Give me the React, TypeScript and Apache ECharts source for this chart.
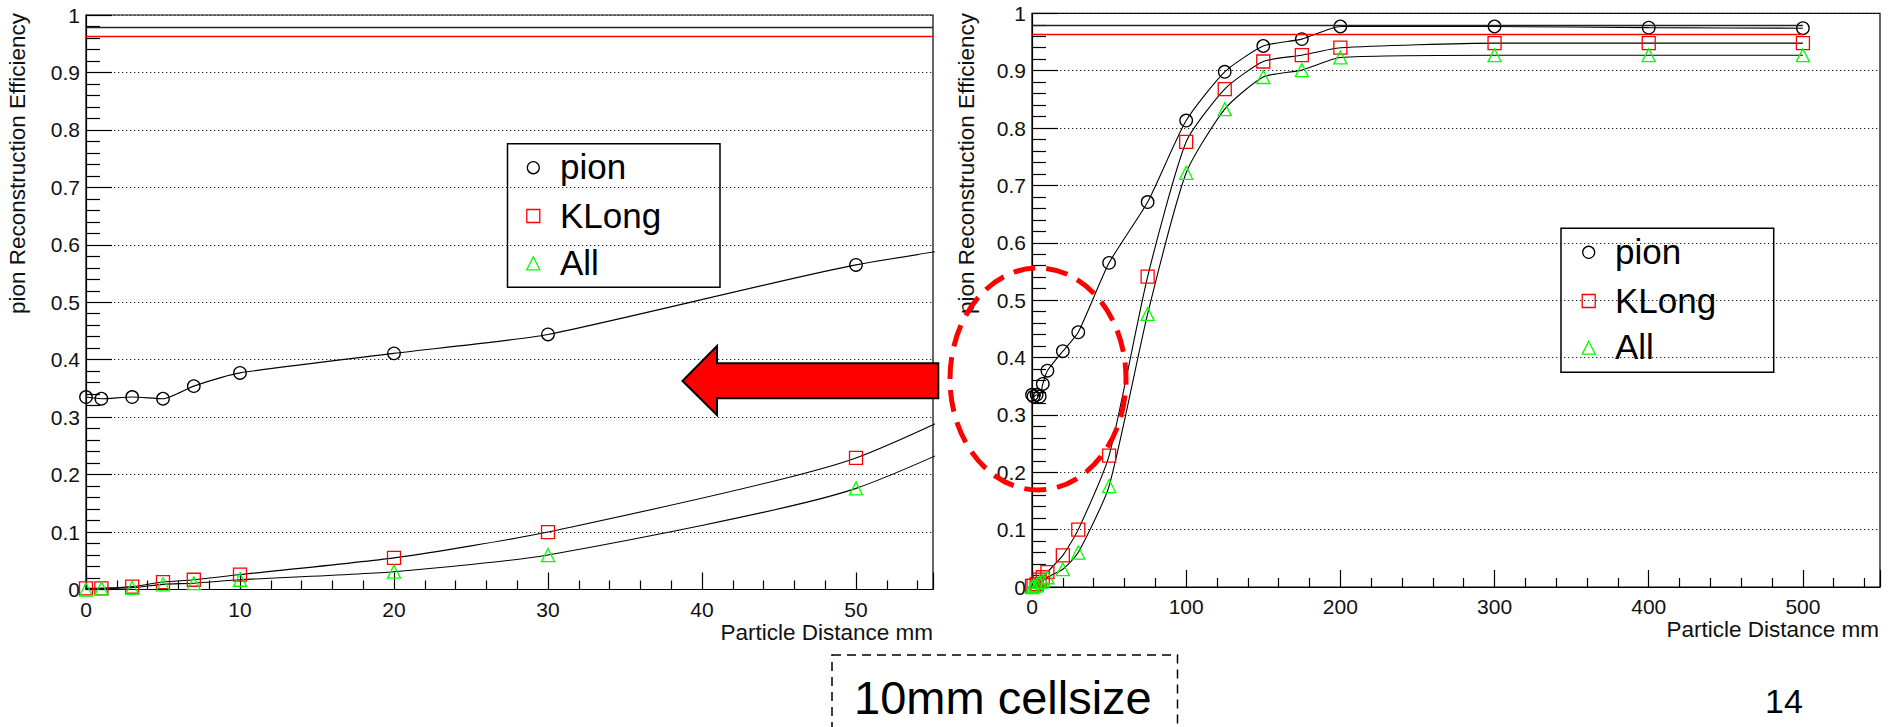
import React, { useEffect, useRef } from "react";
import * as echarts from "echarts";

// ---- data ----
const distances = [0, 1, 3, 5, 7, 10, 20, 30, 50, 75, 100, 125, 150, 175, 200, 300, 400, 500];
const pionEff = [0.335, 0.332, 0.335, 0.332, 0.354, 0.377, 0.411, 0.444, 0.565, 0.671, 0.813, 0.898, 0.943, 0.955, 0.977, 0.977, 0.975, 0.974];
const kLongEff = [0.002, 0.002, 0.005, 0.013, 0.017, 0.026, 0.055, 0.1, 0.229, 0.541, 0.776, 0.868, 0.916, 0.927, 0.94, 0.948, 0.948, 0.948];
const allEff = [0.0, 0.002, 0.003, 0.009, 0.011, 0.017, 0.031, 0.06, 0.176, 0.476, 0.722, 0.833, 0.889, 0.901, 0.923, 0.927, 0.927, 0.927];
const seriesNames = ["pion", "KLong", "All"];
const pionRef = 0.979;
const kLongRef = 0.963;
const yAxisTitle = "pion Reconstruction Efficiency";
const xAxisTitle = "Particle Distance mm";
const boxText = "10mm cellsize";
const pageNumber = "14";

const FONT = "'Liberation Sans', Arial, Helvetica, sans-serif";
const RED = "#ff0000";
const GREEN = "#00ff00";
const INK = "#000000";

function pairs(vals: number[]) {
  return distances.map((d, i) => [d, vals[i]]);
}

function makeAxes(gridIndex: number, xMax: number, xInterval: number) {
  const xAxis = {
    type: "value",
    gridIndex,
    min: 0,
    max: xMax,
    interval: xInterval,
    axisLine: { show: true, onZero: false, lineStyle: { color: INK, width: 1.2 } },
    axisTick: { show: true, inside: true, length: 17, lineStyle: { color: INK, width: 1.2 } },
    minorTick: { show: true, splitNumber: 5, length: 9, lineStyle: { color: INK, width: 1.2 } },
    splitLine: { show: false },
    axisLabel: { show: true, showMaxLabel: false, margin: 9, color: "#111", fontSize: 21, fontFamily: FONT },
  };
  const yAxis = {
    type: "value",
    gridIndex,
    min: 0,
    max: 1,
    interval: 0.1,
    axisLine: { show: true, onZero: false, lineStyle: { color: INK, width: 1.2 } },
    axisTick: { show: true, inside: true, length: 26, lineStyle: { color: INK, width: 1.2 } },
    minorTick: { show: true, splitNumber: 5, length: 14, lineStyle: { color: INK, width: 1.2 } },
    splitLine: { show: true, lineStyle: { color: "#222", width: 1.2, type: [1.3, 2.7] } },
    axisLabel: { show: true, margin: 6, color: "#111", fontSize: 21, fontFamily: FONT },
  };
  return { xAxis, yAxis };
}

function makeSeries(idx: number, xEnd: number) {
  const common = {
    type: "line",
    xAxisIndex: idx,
    yAxisIndex: idx,
    smooth: 0.2,
    clip: true,
    symbolSize: 13,
    lineStyle: { color: INK, width: 1.1 },
    emphasis: { disabled: true },
  };
  return [
    {
      ...common,
      name: seriesNames[0],
      data: pairs(pionEff),
      symbol: "circle",
      symbolSize: 12.5,
      itemStyle: { color: "rgba(0,0,0,0)", borderColor: INK, borderWidth: 1.3 },
      markLine: {
        silent: true,
        symbol: ["none", "none"],
        label: { show: false },
        lineStyle: { type: "solid", width: 1.3, color: "#222" },
        data: [
          [{ coord: [0, pionRef] }, { coord: [xEnd, pionRef] }],
          [{ coord: [0, kLongRef], lineStyle: { color: RED, type: "solid", width: 1.3 } }, { coord: [xEnd, kLongRef] }],
        ],
      },
    },
    {
      ...common,
      name: seriesNames[1],
      data: pairs(kLongEff),
      symbol: "rect",
      itemStyle: { color: "rgba(0,0,0,0)", borderColor: RED, borderWidth: 1.3 },
    },
    {
      ...common,
      name: seriesNames[2],
      data: pairs(allEff),
      symbol: "triangle",
      itemStyle: { color: "rgba(0,0,0,0)", borderColor: GREEN, borderWidth: 1.3 },
    },
  ];
}

function legendGraphic(x0: number, y0: number, x1: number, y1: number, mx: number, rows: number[], tx: number) {
  const children: any[] = [
    {
      type: "rect",
      shape: { x: x0, y: y0, width: x1 - x0, height: y1 - y0 },
      style: { fill: "#fff", stroke: INK, lineWidth: 1.5 },
    },
    {
      type: "circle",
      shape: { cx: mx, cy: rows[0], r: 6 },
      style: { fill: "none", stroke: INK, lineWidth: 1.3 },
    },
    {
      type: "rect",
      shape: { x: mx - 6.5, y: rows[1] - 6.5, width: 13, height: 13 },
      style: { fill: "none", stroke: RED, lineWidth: 1.3 },
    },
    {
      type: "polygon",
      shape: { points: [[mx, rows[2] - 6.5], [mx + 6.5, rows[2] + 6.5], [mx - 6.5, rows[2] + 6.5]] },
      style: { fill: "none", stroke: GREEN, lineWidth: 1.3 },
    },
  ];
  seriesNames.forEach((n, i) => {
    children.push({
      type: "text",
      x: tx,
      y: rows[i] - 1,
      style: { text: n, fill: "#000", fontSize: 35, fontFamily: FONT, align: "left", verticalAlign: "middle" },
    });
  });
  return { type: "group", z: 100, children };
}

export default function App() {
  const ref = useRef<HTMLDivElement>(null);

  useEffect(() => {
    if (!ref.current) return;
    const chart = echarts.init(ref.current, undefined, { renderer: "svg" });

    const a0 = makeAxes(0, 55, 10);
    const a1 = makeAxes(1, 550, 100);

    const option: any = {
      animation: false,
      backgroundColor: "#ffffff",
      textStyle: { fontFamily: FONT },
      grid: [
        { left: 86, top: 15, width: 847, height: 574.5, show: true, borderColor: INK, borderWidth: 1.2, backgroundColor: "transparent" },
        { left: 1032, top: 13.3, width: 848, height: 573.7, show: true, borderColor: INK, borderWidth: 1.2, backgroundColor: "transparent" },
      ],
      xAxis: [a0.xAxis, a1.xAxis],
      yAxis: [a0.yAxis, a1.yAxis],
      series: [...makeSeries(0, 55), ...makeSeries(1, 500)],
      graphic: [
        // axis titles
        {
          type: "text", x: 17.5, y: 13, rotation: Math.PI / 2, z: 50,
          style: { text: yAxisTitle, fill: "#111", fontSize: 22.5, fontFamily: FONT, align: "right", verticalAlign: "middle" },
        },
        {
          type: "text", x: 966, y: 13, rotation: Math.PI / 2, z: 50,
          style: { text: yAxisTitle, fill: "#111", fontSize: 22.5, fontFamily: FONT, align: "right", verticalAlign: "middle" },
        },
        {
          type: "text", x: 933, y: 632, z: 50,
          style: { text: xAxisTitle, fill: "#111", fontSize: 22.5, fontFamily: FONT, align: "right", verticalAlign: "middle" },
        },
        {
          type: "text", x: 1879, y: 629.5, z: 50,
          style: { text: xAxisTitle, fill: "#111", fontSize: 22.5, fontFamily: FONT, align: "right", verticalAlign: "middle" },
        },
        // legends
        legendGraphic(507.5, 143.7, 720, 287.3, 533.3, [167.7, 216, 263.3], 560),
        legendGraphic(1561, 228.3, 1773.7, 372.3, 1588.7, [252.3, 301, 347.7], 1615),
        // red arrow
        {
          type: "polygon", z: 110,
          shape: {
            points: [
              [682.5, 381], [717, 346], [717, 363.3], [938.3, 363.3],
              [938.3, 398.3], [717, 398.3], [717, 415],
            ],
          },
          style: { fill: RED, stroke: INK, lineWidth: 2 },
        },
        // dashed red ellipse
        {
          type: "ellipse", z: 110,
          shape: { cx: 1038, cy: 379, rx: 88, ry: 111 },
          style: { fill: "none", stroke: RED, lineWidth: 5, lineDash: [22, 11] },
        },
        // dashed caption box
        {
          type: "rect", z: 110,
          shape: { x: 832, y: 655, width: 345.5, height: 90 },
          style: { fill: "none", stroke: INK, lineWidth: 1.5, lineDash: [9, 6] },
        },
        {
          type: "text", x: 854, y: 697, z: 110,
          style: { text: boxText, fill: "#000", fontSize: 47, fontFamily: FONT, align: "left", verticalAlign: "middle" },
        },
        {
          type: "text", x: 1784, y: 701, z: 110,
          style: { text: pageNumber, fill: "#000", fontSize: 34, fontFamily: FONT, align: "center", verticalAlign: "middle" },
        },
      ],
    };

    chart.setOption(option);
    return () => {
      chart.dispose();
    };
  }, []);

  return (
    <div
      ref={ref}
      style={{ position: "absolute", left: 0, top: 0, width: 1888, height: 727, background: "#fff" }}
    />
  );
}
